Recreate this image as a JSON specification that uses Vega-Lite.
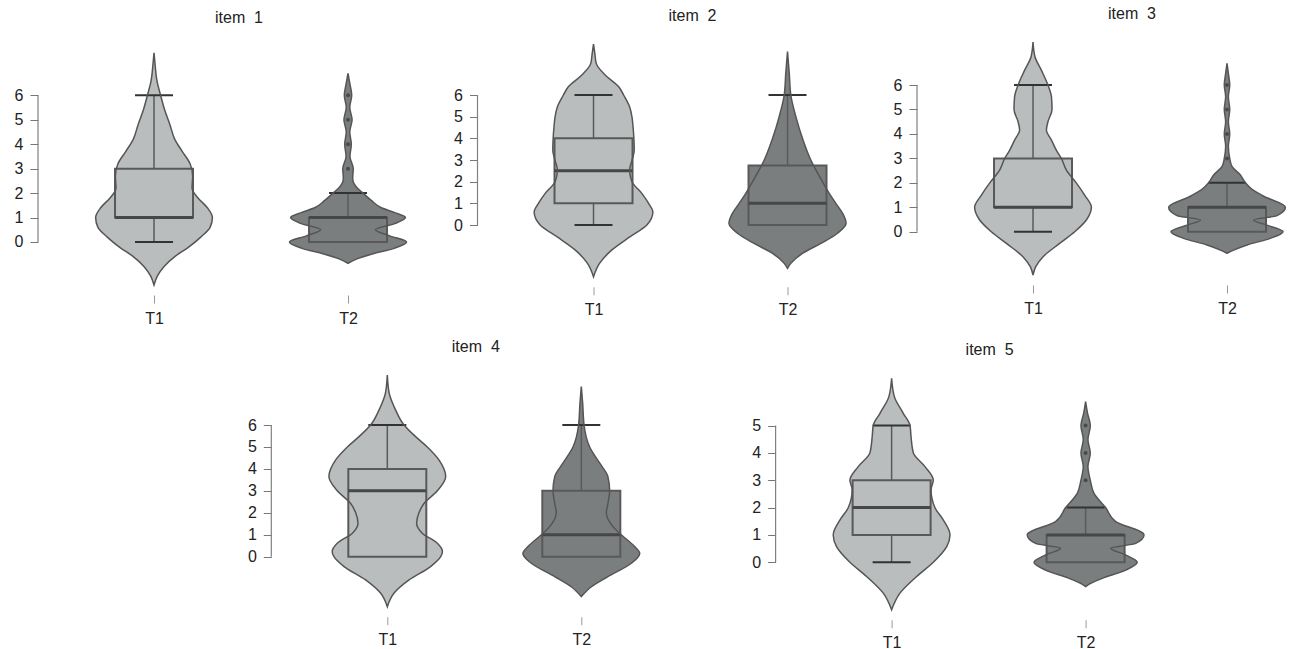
{
"$schema": "https://vega.github.io/schema/vega-lite/v6.json",
"padding": {"left": 14, "top": 6, "right": 2, "bottom": 0},
"spacing": 13,
"config": {
  "view": {"stroke": null},
  "font": "Liberation Sans",
  "axis": {"grid": false, "domain": false, "labelFont": "Liberation Sans", "labelColor": "#222", "tickColor": "#777", "tickSize": 8},
  "axisY": {"labelFontSize": 16, "labelPadding": 7},
  "axisX": {"labelFontSize": 16, "labelPadding": 7, "offset": 10, "tickColor": "#999", "labelAngle": 0},
  "title": {"font": "Liberation Sans", "fontSize": 16, "fontWeight": "normal", "color": "#222", "offset": 17, "baseline": "alphabetic"}
},
"datasets": {
  "violin": [
    {"item":1,"t":"T1","y":7.74,"lo":1,"hi":1},{"item":1,"t":"T1","y":7.3,"lo":0.995,"hi":1.005},{"item":1,"t":"T1","y":6.6,"lo":0.985,"hi":1.015},{"item":1,"t":"T1","y":6.0,"lo":0.966,"hi":1.034},{"item":1,"t":"T1","y":5.4,"lo":0.945,"hi":1.055},{"item":1,"t":"T1","y":4.8,"lo":0.918,"hi":1.082},{"item":1,"t":"T1","y":4.2,"lo":0.893,"hi":1.107},{"item":1,"t":"T1","y":3.7,"lo":0.854,"hi":1.146},{"item":1,"t":"T1","y":3.2,"lo":0.814,"hi":1.186},{"item":1,"t":"T1","y":2.7,"lo":0.801,"hi":1.199},{"item":1,"t":"T1","y":2.2,"lo":0.804,"hi":1.196},{"item":1,"t":"T1","y":1.8,"lo":0.773,"hi":1.227},{"item":1,"t":"T1","y":1.4,"lo":0.725,"hi":1.275},{"item":1,"t":"T1","y":1.0,"lo":0.699,"hi":1.301},{"item":1,"t":"T1","y":0.6,"lo":0.711,"hi":1.289},{"item":1,"t":"T1","y":0.2,"lo":0.759,"hi":1.241},{"item":1,"t":"T1","y":-0.2,"lo":0.82,"hi":1.18},{"item":1,"t":"T1","y":-0.6,"lo":0.893,"hi":1.107},{"item":1,"t":"T1","y":-1.0,"lo":0.948,"hi":1.052},{"item":1,"t":"T1","y":-1.4,"lo":0.983,"hi":1.017},{"item":1,"t":"T1","y":-1.76,"lo":1,"hi":1},
    {"item":1,"t":"T2","y":6.9,"lo":2,"hi":2},{"item":1,"t":"T2","y":6.5,"lo":1.991,"hi":2.009},{"item":1,"t":"T2","y":6.0,"lo":1.981,"hi":2.019},{"item":1,"t":"T2","y":5.5,"lo":1.991,"hi":2.009},{"item":1,"t":"T2","y":5.0,"lo":1.979,"hi":2.021},{"item":1,"t":"T2","y":4.5,"lo":1.991,"hi":2.009},{"item":1,"t":"T2","y":4.0,"lo":1.983,"hi":2.017},{"item":1,"t":"T2","y":3.5,"lo":1.99,"hi":2.01},{"item":1,"t":"T2","y":3.0,"lo":1.973,"hi":2.027},{"item":1,"t":"T2","y":2.6,"lo":1.976,"hi":2.024},{"item":1,"t":"T2","y":2.25,"lo":1.957,"hi":2.043},{"item":1,"t":"T2","y":2.0,"lo":1.923,"hi":2.077},{"item":1,"t":"T2","y":1.7,"lo":1.88,"hi":2.12},{"item":1,"t":"T2","y":1.4,"lo":1.828,"hi":2.172},{"item":1,"t":"T2","y":1.2,"lo":1.759,"hi":2.241},{"item":1,"t":"T2","y":1.0,"lo":1.704,"hi":2.296},{"item":1,"t":"T2","y":0.75,"lo":1.759,"hi":2.241},{"item":1,"t":"T2","y":0.5,"lo":1.859,"hi":2.141},{"item":1,"t":"T2","y":0.25,"lo":1.785,"hi":2.215},{"item":1,"t":"T2","y":0.0,"lo":1.698,"hi":2.302},{"item":1,"t":"T2","y":-0.25,"lo":1.759,"hi":2.241},{"item":1,"t":"T2","y":-0.5,"lo":1.88,"hi":2.12},{"item":1,"t":"T2","y":-0.7,"lo":1.957,"hi":2.043},{"item":1,"t":"T2","y":-0.87,"lo":2,"hi":2},
    {"item":2,"t":"T1","y":8.35,"lo":1,"hi":1},{"item":2,"t":"T1","y":7.9,"lo":0.993,"hi":1.007},{"item":2,"t":"T1","y":7.46,"lo":0.986,"hi":1.014},{"item":2,"t":"T1","y":6.92,"lo":0.94,"hi":1.06},{"item":2,"t":"T1","y":6.39,"lo":0.871,"hi":1.129},{"item":2,"t":"T1","y":6.0,"lo":0.845,"hi":1.155},{"item":2,"t":"T1","y":5.46,"lo":0.814,"hi":1.186},{"item":2,"t":"T1","y":5.0,"lo":0.802,"hi":1.198},{"item":2,"t":"T1","y":4.5,"lo":0.796,"hi":1.204},{"item":2,"t":"T1","y":4.0,"lo":0.792,"hi":1.208},{"item":2,"t":"T1","y":3.46,"lo":0.79,"hi":1.21},{"item":2,"t":"T1","y":3.0,"lo":0.801,"hi":1.199},{"item":2,"t":"T1","y":2.54,"lo":0.814,"hi":1.186},{"item":2,"t":"T1","y":2.0,"lo":0.802,"hi":1.198},{"item":2,"t":"T1","y":1.46,"lo":0.751,"hi":1.249},{"item":2,"t":"T1","y":1.0,"lo":0.716,"hi":1.284},{"item":2,"t":"T1","y":0.6,"lo":0.694,"hi":1.306},{"item":2,"t":"T1","y":0.0,"lo":0.725,"hi":1.275},{"item":2,"t":"T1","y":-0.54,"lo":0.811,"hi":1.189},{"item":2,"t":"T1","y":-1.15,"lo":0.905,"hi":1.095},{"item":2,"t":"T1","y":-1.77,"lo":0.969,"hi":1.031},{"item":2,"t":"T1","y":-2.39,"lo":1,"hi":1},
    {"item":2,"t":"T2","y":8.0,"lo":2,"hi":2},{"item":2,"t":"T2","y":7.0,"lo":1.991,"hi":2.009},{"item":2,"t":"T2","y":6.0,"lo":1.983,"hi":2.017},{"item":2,"t":"T2","y":5.0,"lo":1.957,"hi":2.043},{"item":2,"t":"T2","y":4.0,"lo":1.923,"hi":2.077},{"item":2,"t":"T2","y":3.0,"lo":1.88,"hi":2.12},{"item":2,"t":"T2","y":2.54,"lo":1.854,"hi":2.146},{"item":2,"t":"T2","y":2.0,"lo":1.82,"hi":2.18},{"item":2,"t":"T2","y":1.46,"lo":1.785,"hi":2.215},{"item":2,"t":"T2","y":1.0,"lo":1.751,"hi":2.249},{"item":2,"t":"T2","y":0.54,"lo":1.716,"hi":2.284},{"item":2,"t":"T2","y":0.08,"lo":1.698,"hi":2.302},{"item":2,"t":"T2","y":-0.38,"lo":1.742,"hi":2.258},{"item":2,"t":"T2","y":-0.85,"lo":1.828,"hi":2.172},{"item":2,"t":"T2","y":-1.31,"lo":1.923,"hi":2.077},{"item":2,"t":"T2","y":-1.77,"lo":1.983,"hi":2.017},{"item":2,"t":"T2","y":-2.0,"lo":2,"hi":2},
    {"item":3,"t":"T1","y":7.76,"lo":1,"hi":1},{"item":3,"t":"T1","y":7.16,"lo":0.99,"hi":1.01},{"item":3,"t":"T1","y":6.61,"lo":0.957,"hi":1.043},{"item":3,"t":"T1","y":6.0,"lo":0.923,"hi":1.077},{"item":3,"t":"T1","y":5.52,"lo":0.905,"hi":1.095},{"item":3,"t":"T1","y":5.0,"lo":0.902,"hi":1.098},{"item":3,"t":"T1","y":4.5,"lo":0.923,"hi":1.077},{"item":3,"t":"T1","y":4.16,"lo":0.931,"hi":1.069},{"item":3,"t":"T1","y":3.75,"lo":0.905,"hi":1.095},{"item":3,"t":"T1","y":3.34,"lo":0.88,"hi":1.12},{"item":3,"t":"T1","y":3.0,"lo":0.854,"hi":1.146},{"item":3,"t":"T1","y":2.52,"lo":0.828,"hi":1.172},{"item":3,"t":"T1","y":2.0,"lo":0.777,"hi":1.223},{"item":3,"t":"T1","y":1.5,"lo":0.734,"hi":1.266},{"item":3,"t":"T1","y":1.0,"lo":0.699,"hi":1.301},{"item":3,"t":"T1","y":0.48,"lo":0.725,"hi":1.275},{"item":3,"t":"T1","y":0.0,"lo":0.785,"hi":1.215},{"item":3,"t":"T1","y":-0.48,"lo":0.863,"hi":1.137},{"item":3,"t":"T1","y":-1.02,"lo":0.948,"hi":1.052},{"item":3,"t":"T1","y":-1.43,"lo":0.986,"hi":1.014},{"item":3,"t":"T1","y":-1.77,"lo":1,"hi":1},
    {"item":3,"t":"T2","y":6.89,"lo":2,"hi":2},{"item":3,"t":"T2","y":6.48,"lo":1.993,"hi":2.007},{"item":3,"t":"T2","y":6.0,"lo":1.986,"hi":2.014},{"item":3,"t":"T2","y":5.52,"lo":1.993,"hi":2.007},{"item":3,"t":"T2","y":5.0,"lo":1.986,"hi":2.014},{"item":3,"t":"T2","y":4.5,"lo":1.993,"hi":2.007},{"item":3,"t":"T2","y":4.0,"lo":1.986,"hi":2.014},{"item":3,"t":"T2","y":3.5,"lo":1.993,"hi":2.007},{"item":3,"t":"T2","y":3.0,"lo":1.986,"hi":2.014},{"item":3,"t":"T2","y":2.66,"lo":1.974,"hi":2.026},{"item":3,"t":"T2","y":2.32,"lo":1.931,"hi":2.069},{"item":3,"t":"T2","y":2.0,"lo":1.905,"hi":2.095},{"item":3,"t":"T2","y":1.73,"lo":1.871,"hi":2.129},{"item":3,"t":"T2","y":1.45,"lo":1.811,"hi":2.189},{"item":3,"t":"T2","y":1.0,"lo":1.699,"hi":2.301},{"item":3,"t":"T2","y":0.66,"lo":1.742,"hi":2.258},{"item":3,"t":"T2","y":0.48,"lo":1.863,"hi":2.137},{"item":3,"t":"T2","y":0.27,"lo":1.794,"hi":2.206},{"item":3,"t":"T2","y":0.0,"lo":1.711,"hi":2.289},{"item":3,"t":"T2","y":-0.27,"lo":1.777,"hi":2.223},{"item":3,"t":"T2","y":-0.54,"lo":1.897,"hi":2.103},{"item":3,"t":"T2","y":-0.75,"lo":1.966,"hi":2.034},{"item":3,"t":"T2","y":-0.88,"lo":2,"hi":2},
    {"item":4,"t":"T1","y":8.28,"lo":1,"hi":1},{"item":4,"t":"T1","y":7.44,"lo":0.99,"hi":1.01},{"item":4,"t":"T1","y":6.68,"lo":0.957,"hi":1.043},{"item":4,"t":"T1","y":6.0,"lo":0.914,"hi":1.086},{"item":4,"t":"T1","y":5.47,"lo":0.854,"hi":1.146},{"item":4,"t":"T1","y":5.0,"lo":0.794,"hi":1.206},{"item":4,"t":"T1","y":4.41,"lo":0.734,"hi":1.266},{"item":4,"t":"T1","y":3.65,"lo":0.699,"hi":1.301},{"item":4,"t":"T1","y":3.0,"lo":0.742,"hi":1.258},{"item":4,"t":"T1","y":2.42,"lo":0.811,"hi":1.189},{"item":4,"t":"T1","y":2.0,"lo":0.837,"hi":1.163},{"item":4,"t":"T1","y":1.52,"lo":0.849,"hi":1.151},{"item":4,"t":"T1","y":1.07,"lo":0.82,"hi":1.18},{"item":4,"t":"T1","y":0.61,"lo":0.742,"hi":1.258},{"item":4,"t":"T1","y":0.23,"lo":0.716,"hi":1.284},{"item":4,"t":"T1","y":0.0,"lo":0.725,"hi":1.275},{"item":4,"t":"T1","y":-0.45,"lo":0.777,"hi":1.223},{"item":4,"t":"T1","y":-1.06,"lo":0.888,"hi":1.112},{"item":4,"t":"T1","y":-1.67,"lo":0.966,"hi":1.034},{"item":4,"t":"T1","y":-2.28,"lo":1,"hi":1},
    {"item":4,"t":"T2","y":7.75,"lo":2,"hi":2},{"item":4,"t":"T2","y":6.99,"lo":1.993,"hi":2.007},{"item":4,"t":"T2","y":6.0,"lo":1.986,"hi":2.014},{"item":4,"t":"T2","y":5.0,"lo":1.957,"hi":2.043},{"item":4,"t":"T2","y":4.26,"lo":1.905,"hi":2.095},{"item":4,"t":"T2","y":3.65,"lo":1.863,"hi":2.137},{"item":4,"t":"T2","y":3.0,"lo":1.854,"hi":2.146},{"item":4,"t":"T2","y":2.42,"lo":1.863,"hi":2.137},{"item":4,"t":"T2","y":2.0,"lo":1.871,"hi":2.129},{"item":4,"t":"T2","y":1.37,"lo":1.837,"hi":2.163},{"item":4,"t":"T2","y":1.0,"lo":1.794,"hi":2.206},{"item":4,"t":"T2","y":0.46,"lo":1.725,"hi":2.275},{"item":4,"t":"T2","y":0.15,"lo":1.699,"hi":2.301},{"item":4,"t":"T2","y":-0.3,"lo":1.742,"hi":2.258},{"item":4,"t":"T2","y":-0.91,"lo":1.863,"hi":2.137},{"item":4,"t":"T2","y":-1.37,"lo":1.948,"hi":2.052},{"item":4,"t":"T2","y":-1.82,"lo":2,"hi":2},
    {"item":5,"t":"T1","y":6.73,"lo":1,"hi":1},{"item":5,"t":"T1","y":6.06,"lo":0.986,"hi":1.014},{"item":5,"t":"T1","y":5.45,"lo":0.94,"hi":1.06},{"item":5,"t":"T1","y":5.0,"lo":0.905,"hi":1.095},{"item":5,"t":"T1","y":4.6,"lo":0.9,"hi":1.1},{"item":5,"t":"T1","y":4.0,"lo":0.888,"hi":1.112},{"item":5,"t":"T1","y":3.5,"lo":0.828,"hi":1.172},{"item":5,"t":"T1","y":3.0,"lo":0.785,"hi":1.215},{"item":5,"t":"T1","y":2.65,"lo":0.797,"hi":1.203},{"item":5,"t":"T1","y":2.0,"lo":0.777,"hi":1.223},{"item":5,"t":"T1","y":1.55,"lo":0.734,"hi":1.266},{"item":5,"t":"T1","y":1.0,"lo":0.699,"hi":1.301},{"item":5,"t":"T1","y":0.57,"lo":0.716,"hi":1.284},{"item":5,"t":"T1","y":0.0,"lo":0.785,"hi":1.215},{"item":5,"t":"T1","y":-0.52,"lo":0.871,"hi":1.129},{"item":5,"t":"T1","y":-1.13,"lo":0.957,"hi":1.043},{"item":5,"t":"T1","y":-1.74,"lo":1,"hi":1},
    {"item":5,"t":"T2","y":5.88,"lo":2,"hi":2},{"item":5,"t":"T2","y":5.45,"lo":1.99,"hi":2.01},{"item":5,"t":"T2","y":5.0,"lo":1.976,"hi":2.024},{"item":5,"t":"T2","y":4.48,"lo":1.988,"hi":2.012},{"item":5,"t":"T2","y":4.0,"lo":1.976,"hi":2.024},{"item":5,"t":"T2","y":3.5,"lo":1.988,"hi":2.012},{"item":5,"t":"T2","y":3.0,"lo":1.976,"hi":2.024},{"item":5,"t":"T2","y":2.52,"lo":1.957,"hi":2.043},{"item":5,"t":"T2","y":2.0,"lo":1.897,"hi":2.103},{"item":5,"t":"T2","y":1.49,"lo":1.845,"hi":2.155},{"item":5,"t":"T2","y":1.0,"lo":1.699,"hi":2.301},{"item":5,"t":"T2","y":0.69,"lo":1.742,"hi":2.258},{"item":5,"t":"T2","y":0.51,"lo":1.871,"hi":2.129},{"item":5,"t":"T2","y":0.27,"lo":1.794,"hi":2.206},{"item":5,"t":"T2","y":0.0,"lo":1.734,"hi":2.266},{"item":5,"t":"T2","y":-0.29,"lo":1.794,"hi":2.206},{"item":5,"t":"T2","y":-0.59,"lo":1.914,"hi":2.086},{"item":5,"t":"T2","y":-0.77,"lo":1.974,"hi":2.026},{"item":5,"t":"T2","y":-0.89,"lo":2,"hi":2}
  ],
  "box": [
    {"item":1,"t":"T1","c":1,"wlo":0,"q1":1,"med":1,"q3":3,"whi":6},
    {"item":1,"t":"T2","c":2,"wlo":0,"q1":0,"med":1,"q3":1,"whi":2},
    {"item":2,"t":"T1","c":1,"wlo":0,"q1":1,"med":2.5,"q3":4,"whi":6},
    {"item":2,"t":"T2","c":2,"wlo":0,"q1":0,"med":1,"q3":2.75,"whi":6},
    {"item":3,"t":"T1","c":1,"wlo":0,"q1":1,"med":1,"q3":3,"whi":6},
    {"item":3,"t":"T2","c":2,"wlo":0,"q1":0,"med":1,"q3":1,"whi":2},
    {"item":4,"t":"T1","c":1,"wlo":0,"q1":0,"med":3,"q3":4,"whi":6},
    {"item":4,"t":"T2","c":2,"wlo":0,"q1":0,"med":1,"q3":3,"whi":6},
    {"item":5,"t":"T1","c":1,"wlo":0,"q1":1,"med":2,"q3":3,"whi":5},
    {"item":5,"t":"T2","c":2,"wlo":0,"q1":0,"med":1,"q3":1,"whi":2}
  ],
  "caps": [
    {"item":1,"c":1,"y":0},{"item":1,"c":1,"y":6},{"item":1,"c":2,"y":2},
    {"item":2,"c":1,"y":0},{"item":2,"c":1,"y":6},{"item":2,"c":2,"y":6},
    {"item":3,"c":1,"y":0},{"item":3,"c":1,"y":6},{"item":3,"c":2,"y":2},
    {"item":4,"c":1,"y":6},{"item":4,"c":2,"y":6},
    {"item":5,"c":1,"y":0},{"item":5,"c":1,"y":5},{"item":5,"c":2,"y":2}
  ],
  "out": [
    {"item":1,"c":2,"y":3},{"item":1,"c":2,"y":4},{"item":1,"c":2,"y":5},{"item":1,"c":2,"y":6},
    {"item":3,"c":2,"y":3},{"item":3,"c":2,"y":4},{"item":3,"c":2,"y":5},{"item":3,"c":2,"y":6},
    {"item":5,"c":2,"y":3},{"item":5,"c":2,"y":4},{"item":5,"c":2,"y":5}
  ],
  "axisline": [
    {"item":1,"c":0.402,"from":0,"to":6},{"item":2,"c":0.402,"from":0,"to":6},{"item":3,"c":0.402,"from":0,"to":6},{"item":4,"c":0.402,"from":0,"to":6},{"item":5,"c":0.402,"from":0,"to":5}
  ]
},
"vconcat": [
 {"hconcat": [
  {"width": 372, "height": 242, "title": {"text": "item\u00a0 1", "dx": 15},
   "encoding": {"x": {"field": "c", "type": "quantitative", "title": null, "scale": {"domain": [0.402, 2.3195], "nice": false, "zero": false, "padding": 0}, "axis": {"values": [1, 2], "labelExpr": "datum.value == 1 ? 'T1' : 'T2'"}},
                "y": {"field": "y", "type": "quantitative", "title": null, "scale": {"domain": [-1.76, 8.14], "nice": false, "zero": false}, "axis": {"values": [0,1,2,3,4,5,6]}}},
   "layer": [
    {"data": {"name": "violin"}, "transform": [{"filter": "datum.item == 1"}], "mark": {"type": "area", "orient": "horizontal", "interpolate": "monotone", "strokeWidth": 0}, "encoding": {"x": {"field": "lo", "type": "quantitative", "title": null}, "x2": {"field": "hi"}, "fill": {"field": "t", "type": "nominal", "scale": {"domain": ["T1","T2"], "range": ["#babdbe","#7b7e7f"]}, "legend": null}}},
    {"data": {"name": "box"}, "transform": [{"filter": "datum.item == 1"}], "mark": {"type": "rule", "color": "#5a5a5a", "strokeWidth": 1.5}, "encoding": {"y": {"field": "wlo", "type": "quantitative", "title": null}, "y2": {"field": "whi"}}},
    {"data": {"name": "box"}, "transform": [{"filter": "datum.item == 1"}], "mark": {"type": "bar", "orient": "vertical", "size": 78, "stroke": "#595959", "strokeWidth": 2}, "encoding": {"y": {"field": "q1", "type": "quantitative", "title": null}, "y2": {"field": "q3"}, "fill": {"field": "t", "type": "nominal", "legend": null}}},
    {"data": {"name": "box"}, "transform": [{"filter": "datum.item == 1"}], "mark": {"type": "tick", "orient": "horizontal", "size": 78, "thickness": 3, "color": "#474747", "opacity": 1}, "encoding": {"y": {"field": "med", "type": "quantitative", "title": null}}},
    {"data": {"name": "caps"}, "transform": [{"filter": "datum.item == 1"}], "mark": {"type": "tick", "orient": "horizontal", "size": 38, "thickness": 2, "color": "#333", "opacity": 1}},
    {"data": {"name": "out"}, "transform": [{"filter": "datum.item == 1"}], "mark": {"type": "point", "filled": true, "size": 16, "color": "#4a4a4a", "opacity": 1}},
    {"data": {"name": "violin"}, "transform": [{"filter": "datum.item == 1"}], "mark": {"type": "area", "orient": "horizontal", "interpolate": "monotone", "fillOpacity": 0, "stroke": "#555", "strokeWidth": 1.5}, "encoding": {"x": {"field": "lo", "type": "quantitative", "title": null}, "x2": {"field": "hi"}, "detail": {"field": "t"}}},
    {"data": {"name": "axisline"}, "transform": [{"filter": "datum.item == 1"}], "mark": {"type": "rule", "color": "#808080", "strokeWidth": 1.2}, "encoding": {"y": {"field": "from", "type": "quantitative", "title": null}, "y2": {"field": "to"}}}
   ]},
  {"width": 372, "height": 233.8, "title": {"text": "item\u00a0 2", "dx": 29},
   "encoding": {"x": {"field": "c", "type": "quantitative", "title": null, "scale": {"domain": [0.402, 2.3195], "nice": false, "zero": false, "padding": 0}, "axis": {"values": [1, 2], "labelExpr": "datum.value == 1 ? 'T1' : 'T2'"}},
                "y": {"field": "y", "type": "quantitative", "title": null, "scale": {"domain": [-2.39, 8.4], "nice": false, "zero": false}, "axis": {"values": [0,1,2,3,4,5,6]}}},
   "layer": [
    {"data": {"name": "violin"}, "transform": [{"filter": "datum.item == 2"}], "mark": {"type": "area", "orient": "horizontal", "interpolate": "monotone", "strokeWidth": 0}, "encoding": {"x": {"field": "lo", "type": "quantitative", "title": null}, "x2": {"field": "hi"}, "fill": {"field": "t", "type": "nominal", "scale": {"domain": ["T1","T2"], "range": ["#babdbe","#7b7e7f"]}, "legend": null}}},
    {"data": {"name": "box"}, "transform": [{"filter": "datum.item == 2"}], "mark": {"type": "rule", "color": "#5a5a5a", "strokeWidth": 1.5}, "encoding": {"y": {"field": "wlo", "type": "quantitative", "title": null}, "y2": {"field": "whi"}}},
    {"data": {"name": "box"}, "transform": [{"filter": "datum.item == 2"}], "mark": {"type": "bar", "orient": "vertical", "size": 78, "stroke": "#595959", "strokeWidth": 2}, "encoding": {"y": {"field": "q1", "type": "quantitative", "title": null}, "y2": {"field": "q3"}, "fill": {"field": "t", "type": "nominal", "legend": null}}},
    {"data": {"name": "box"}, "transform": [{"filter": "datum.item == 2"}], "mark": {"type": "tick", "orient": "horizontal", "size": 78, "thickness": 3, "color": "#474747", "opacity": 1}, "encoding": {"y": {"field": "med", "type": "quantitative", "title": null}}},
    {"data": {"name": "caps"}, "transform": [{"filter": "datum.item == 2"}], "mark": {"type": "tick", "orient": "horizontal", "size": 38, "thickness": 2, "color": "#333", "opacity": 1}},
    {"data": {"name": "violin"}, "transform": [{"filter": "datum.item == 2"}], "mark": {"type": "area", "orient": "horizontal", "interpolate": "monotone", "fillOpacity": 0, "stroke": "#555", "strokeWidth": 1.5}, "encoding": {"x": {"field": "lo", "type": "quantitative", "title": null}, "x2": {"field": "hi"}, "detail": {"field": "t"}}},
    {"data": {"name": "axisline"}, "transform": [{"filter": "datum.item == 2"}], "mark": {"type": "rule", "color": "#808080", "strokeWidth": 1.2}, "encoding": {"y": {"field": "from", "type": "quantitative", "title": null}, "y2": {"field": "to"}}}
   ]},
  {"width": 372, "height": 232, "title": {"text": "item\u00a0 3", "dx": 29},
   "encoding": {"x": {"field": "c", "type": "quantitative", "title": null, "scale": {"domain": [0.402, 2.3195], "nice": false, "zero": false, "padding": 0}, "axis": {"values": [1, 2], "labelExpr": "datum.value == 1 ? 'T1' : 'T2'"}},
                "y": {"field": "y", "type": "quantitative", "title": null, "scale": {"domain": [-1.77, 7.72], "nice": false, "zero": false}, "axis": {"values": [0,1,2,3,4,5,6]}}},
   "layer": [
    {"data": {"name": "violin"}, "transform": [{"filter": "datum.item == 3"}], "mark": {"type": "area", "orient": "horizontal", "interpolate": "monotone", "strokeWidth": 0}, "encoding": {"x": {"field": "lo", "type": "quantitative", "title": null}, "x2": {"field": "hi"}, "fill": {"field": "t", "type": "nominal", "scale": {"domain": ["T1","T2"], "range": ["#babdbe","#7b7e7f"]}, "legend": null}}},
    {"data": {"name": "box"}, "transform": [{"filter": "datum.item == 3"}], "mark": {"type": "rule", "color": "#5a5a5a", "strokeWidth": 1.5}, "encoding": {"y": {"field": "wlo", "type": "quantitative", "title": null}, "y2": {"field": "whi"}}},
    {"data": {"name": "box"}, "transform": [{"filter": "datum.item == 3"}], "mark": {"type": "bar", "orient": "vertical", "size": 78, "stroke": "#595959", "strokeWidth": 2}, "encoding": {"y": {"field": "q1", "type": "quantitative", "title": null}, "y2": {"field": "q3"}, "fill": {"field": "t", "type": "nominal", "legend": null}}},
    {"data": {"name": "box"}, "transform": [{"filter": "datum.item == 3"}], "mark": {"type": "tick", "orient": "horizontal", "size": 78, "thickness": 3, "color": "#474747", "opacity": 1}, "encoding": {"y": {"field": "med", "type": "quantitative", "title": null}}},
    {"data": {"name": "caps"}, "transform": [{"filter": "datum.item == 3"}], "mark": {"type": "tick", "orient": "horizontal", "size": 38, "thickness": 2, "color": "#333", "opacity": 1}},
    {"data": {"name": "out"}, "transform": [{"filter": "datum.item == 3"}], "mark": {"type": "point", "filled": true, "size": 16, "color": "#4a4a4a", "opacity": 1}},
    {"data": {"name": "violin"}, "transform": [{"filter": "datum.item == 3"}], "mark": {"type": "area", "orient": "horizontal", "interpolate": "monotone", "fillOpacity": 0, "stroke": "#555", "strokeWidth": 1.5}, "encoding": {"x": {"field": "lo", "type": "quantitative", "title": null}, "x2": {"field": "hi"}, "detail": {"field": "t"}}},
    {"data": {"name": "axisline"}, "transform": [{"filter": "datum.item == 3"}], "mark": {"type": "rule", "color": "#808080", "strokeWidth": 1.2}, "encoding": {"y": {"field": "from", "type": "quantitative", "title": null}, "y2": {"field": "to"}}}
   ]}
 ], "spacing": 67.5, "bounds": "flush"},
 {"hconcat": [
  {"width": 100.7, "height": 10, "data": {"values": [{}]}, "mark": {"type": "rect", "opacity": 0}, "encoding": {"x": {"datum": 0, "type": "quantitative", "scale": {"domain": [0, 1]}, "axis": null}, "x2": {"datum": 1}}},
  {"width": 372, "height": 231.7, "title": {"text": "item\u00a0 4", "dx": 18.5},
   "encoding": {"x": {"field": "c", "type": "quantitative", "title": null, "scale": {"domain": [0.402, 2.3195], "nice": false, "zero": false, "padding": 0}, "axis": {"values": [1, 2], "labelExpr": "datum.value == 1 ? 'T1' : 'T2'"}},
                "y": {"field": "y", "type": "quantitative", "title": null, "scale": {"domain": [-2.28, 8.28], "nice": false, "zero": false}, "axis": {"values": [0,1,2,3,4,5,6]}}},
   "layer": [
    {"data": {"name": "violin"}, "transform": [{"filter": "datum.item == 4"}], "mark": {"type": "area", "orient": "horizontal", "interpolate": "monotone", "strokeWidth": 0}, "encoding": {"x": {"field": "lo", "type": "quantitative", "title": null}, "x2": {"field": "hi"}, "fill": {"field": "t", "type": "nominal", "scale": {"domain": ["T1","T2"], "range": ["#babdbe","#7b7e7f"]}, "legend": null}}},
    {"data": {"name": "box"}, "transform": [{"filter": "datum.item == 4"}], "mark": {"type": "rule", "color": "#5a5a5a", "strokeWidth": 1.5}, "encoding": {"y": {"field": "wlo", "type": "quantitative", "title": null}, "y2": {"field": "whi"}}},
    {"data": {"name": "box"}, "transform": [{"filter": "datum.item == 4"}], "mark": {"type": "bar", "orient": "vertical", "size": 78, "stroke": "#595959", "strokeWidth": 2}, "encoding": {"y": {"field": "q1", "type": "quantitative", "title": null}, "y2": {"field": "q3"}, "fill": {"field": "t", "type": "nominal", "legend": null}}},
    {"data": {"name": "box"}, "transform": [{"filter": "datum.item == 4"}], "mark": {"type": "tick", "orient": "horizontal", "size": 78, "thickness": 3, "color": "#474747", "opacity": 1}, "encoding": {"y": {"field": "med", "type": "quantitative", "title": null}}},
    {"data": {"name": "caps"}, "transform": [{"filter": "datum.item == 4"}], "mark": {"type": "tick", "orient": "horizontal", "size": 38, "thickness": 2, "color": "#333", "opacity": 1}},
    {"data": {"name": "violin"}, "transform": [{"filter": "datum.item == 4"}], "mark": {"type": "area", "orient": "horizontal", "interpolate": "monotone", "fillOpacity": 0, "stroke": "#555", "strokeWidth": 1.5}, "encoding": {"x": {"field": "lo", "type": "quantitative", "title": null}, "x2": {"field": "hi"}, "detail": {"field": "t"}}},
    {"data": {"name": "axisline"}, "transform": [{"filter": "datum.item == 4"}], "mark": {"type": "rule", "color": "#808080", "strokeWidth": 1.2}, "encoding": {"y": {"field": "from", "type": "quantitative", "title": null}, "y2": {"field": "to"}}}
   ]},
  {"width": 372, "height": 234.8, "title": {"text": "item\u00a0 5", "dx": 28},
   "encoding": {"x": {"field": "c", "type": "quantitative", "title": null, "scale": {"domain": [0.402, 2.3195], "nice": false, "zero": false, "padding": 0}, "axis": {"values": [1, 2], "labelExpr": "datum.value == 1 ? 'T1' : 'T2'"}},
                "y": {"field": "y", "type": "quantitative", "title": null, "scale": {"domain": [-1.74, 6.85], "nice": false, "zero": false}, "axis": {"values": [0,1,2,3,4,5]}}},
   "layer": [
    {"data": {"name": "violin"}, "transform": [{"filter": "datum.item == 5"}], "mark": {"type": "area", "orient": "horizontal", "interpolate": "monotone", "strokeWidth": 0}, "encoding": {"x": {"field": "lo", "type": "quantitative", "title": null}, "x2": {"field": "hi"}, "fill": {"field": "t", "type": "nominal", "scale": {"domain": ["T1","T2"], "range": ["#babdbe","#7b7e7f"]}, "legend": null}}},
    {"data": {"name": "box"}, "transform": [{"filter": "datum.item == 5"}], "mark": {"type": "rule", "color": "#5a5a5a", "strokeWidth": 1.5}, "encoding": {"y": {"field": "wlo", "type": "quantitative", "title": null}, "y2": {"field": "whi"}}},
    {"data": {"name": "box"}, "transform": [{"filter": "datum.item == 5"}], "mark": {"type": "bar", "orient": "vertical", "size": 78, "stroke": "#595959", "strokeWidth": 2}, "encoding": {"y": {"field": "q1", "type": "quantitative", "title": null}, "y2": {"field": "q3"}, "fill": {"field": "t", "type": "nominal", "legend": null}}},
    {"data": {"name": "box"}, "transform": [{"filter": "datum.item == 5"}], "mark": {"type": "tick", "orient": "horizontal", "size": 78, "thickness": 3, "color": "#474747", "opacity": 1}, "encoding": {"y": {"field": "med", "type": "quantitative", "title": null}}},
    {"data": {"name": "caps"}, "transform": [{"filter": "datum.item == 5"}], "mark": {"type": "tick", "orient": "horizontal", "size": 38, "thickness": 2, "color": "#333", "opacity": 1}},
    {"data": {"name": "out"}, "transform": [{"filter": "datum.item == 5"}], "mark": {"type": "point", "filled": true, "size": 16, "color": "#4a4a4a", "opacity": 1}},
    {"data": {"name": "violin"}, "transform": [{"filter": "datum.item == 5"}], "mark": {"type": "area", "orient": "horizontal", "interpolate": "monotone", "fillOpacity": 0, "stroke": "#555", "strokeWidth": 1.5}, "encoding": {"x": {"field": "lo", "type": "quantitative", "title": null}, "x2": {"field": "hi"}, "detail": {"field": "t"}}},
    {"data": {"name": "axisline"}, "transform": [{"filter": "datum.item == 5"}], "mark": {"type": "rule", "color": "#808080", "strokeWidth": 1.2}, "encoding": {"y": {"field": "from", "type": "quantitative", "title": null}, "y2": {"field": "to"}}}
   ]}
 ], "spacing": 132.3, "bounds": "flush"}
]
}
